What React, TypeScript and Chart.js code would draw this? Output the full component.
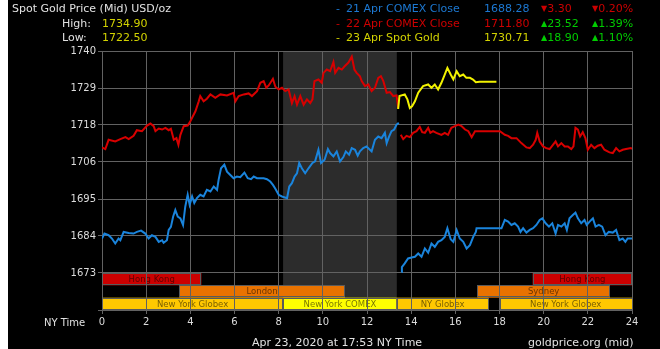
import React, { useEffect, useRef } from "react";
import { Chart, registerables } from "chart.js";

Chart.register(...registerables);

// ---------- data ----------
const xTickHours = [0, 2, 4, 6, 8, 10, 12, 14, 16, 18, 20, 22, 24];
const yTickValues = [1661.8333, 1673, 1684.1667, 1695.3333, 1706.5, 1717.6667, 1728.8333, 1740];
const yTickLabels = ["", "1673", "1684", "1695", "1706", "1718", "1729", "1740"];

// 21 Apr (blue)
const blueHours = [
  0, 0.11, 0.3, 0.45, 0.6, 0.75, 0.83, 0.98, 1.21, 1.43, 1.58, 1.77, 1.96, 2.11, 2.26, 2.42, 2.57, 2.72, 2.79, 2.94,
  3.02, 3.12, 3.22, 3.32, 3.43, 3.55, 3.67, 3.77, 3.88, 3.97, 4.08, 4.18, 4.3, 4.45, 4.6, 4.75, 4.91, 5.06, 5.21, 5.28,
  5.39, 5.54, 5.66, 5.81, 5.96, 6.11, 6.26, 6.45, 6.6, 6.75, 6.87, 7.02, 7.17, 7.32, 7.47, 7.62, 7.74, 7.85, 8.0, 8.15,
  8.38, 8.48, 8.6, 8.72, 8.83, 8.93, 9.05, 9.2, 9.35, 9.53, 9.65, 9.8, 9.92, 10.08, 10.23, 10.33, 10.48, 10.63, 10.78,
  10.93, 11.04, 11.19, 11.31, 11.46, 11.58, 11.68, 11.83, 11.98, 12.21, 12.36, 12.51, 12.66, 12.81, 12.89, 12.99, 13.11,
  13.23, 13.34, 13.44,
  13.5,
  13.56, 13.58, 13.71, 13.86, 14.02, 14.17, 14.32, 14.47, 14.62, 14.77, 14.92, 15.07, 15.22, 15.37, 15.52, 15.64, 15.79,
  15.91, 16.06, 16.2, 16.36, 16.51, 16.66, 16.81, 16.93, 16.96, 18.09, 18.24, 18.39, 18.54, 18.69, 18.84, 18.95, 19.07,
  19.22, 19.37, 19.52, 19.67, 19.82, 19.94, 20.09, 20.24, 20.39, 20.54, 20.65, 20.8, 20.95, 21.05, 21.17, 21.32, 21.44,
  21.55, 21.7, 21.85, 21.95, 22.08, 22.23, 22.35, 22.5, 22.65, 22.8, 22.95, 23.13, 23.28, 23.43, 23.58, 23.7, 23.8, 24.0,
];
const blueValues = [
  1683.4, 1684.9, 1684.4, 1683.4, 1681.9, 1683.4, 1682.9, 1685.4, 1685.1, 1684.9, 1685.4, 1685.8, 1684.9, 1683.4, 1684.4,
  1683.9, 1682.4, 1682.9, 1682.1, 1682.9, 1686.0, 1686.9, 1690.0, 1692.0, 1690.0, 1689.5, 1687.5, 1693.0, 1696.6, 1693.6,
  1696.1, 1694.1, 1695.6, 1696.6, 1696.1, 1698.1, 1697.6, 1699.1, 1698.1, 1701.1, 1704.6, 1705.7, 1703.6, 1702.6, 1701.6,
  1702.1, 1701.9, 1703.3, 1701.6, 1701.3, 1702.1, 1701.6, 1701.6, 1701.6, 1701.3, 1700.6, 1699.6, 1698.4, 1696.6, 1696.1,
  1695.6, 1699.1, 1700.1, 1702.1, 1703.1, 1706.2, 1704.6, 1703.1, 1704.6, 1706.2, 1706.7, 1710.2, 1706.2, 1707.2, 1710.4,
  1709.2, 1708.2, 1709.7, 1706.7, 1708.0, 1709.7, 1708.7, 1710.7, 1710.2, 1708.4, 1709.7, 1710.7, 1711.2, 1709.7, 1713.2,
  1714.2, 1713.7, 1715.3, 1712.2, 1714.0, 1715.8, 1716.3, 1717.8, 1718.3,
  null,
  1673.3, 1674.8, 1675.9, 1677.4, 1677.7, 1677.9, 1678.9, 1677.9, 1680.4, 1679.1, 1681.9, 1680.9, 1682.4, 1682.9, 1683.9,
  1686.5, 1683.2, 1682.4, 1686.0, 1683.4, 1682.4, 1680.4, 1681.4, 1683.9, 1685.4, 1686.5, 1686.5, 1689.0, 1688.5, 1687.5,
  1688.0, 1687.0, 1685.4, 1686.5, 1685.2, 1686.0, 1686.5, 1687.5, 1689.0, 1689.5, 1688.0, 1687.0, 1688.0, 1684.9, 1687.5,
  1687.0, 1688.0, 1686.0, 1689.5, 1690.5, 1691.2, 1689.5, 1688.0, 1689.0, 1687.5, 1688.5, 1689.5, 1687.0, 1687.5, 1687.0,
  1684.4, 1685.4, 1685.2, 1686.0, 1682.9, 1683.4, 1682.4, 1683.4, 1683.4,
];

// 22 Apr (red)
const redHours = [
  0, 0.15, 0.3, 0.6, 0.83, 1.06, 1.21, 1.43, 1.58, 1.81, 2.04, 2.19, 2.34, 2.42, 2.57, 2.72, 2.87, 3.02, 3.12, 3.25,
  3.37, 3.46, 3.55, 3.7, 3.88, 4.0, 4.23, 4.38, 4.45, 4.6, 4.75, 4.91, 5.13, 5.36, 5.66, 5.96, 6.04, 6.19, 6.42, 6.64,
  6.79, 7.02, 7.17, 7.32, 7.44, 7.55, 7.74, 7.85, 8.0, 8.15, 8.3, 8.45, 8.6, 8.72, 8.83, 8.98, 9.13, 9.28, 9.43, 9.53,
  9.62, 9.8, 9.95, 10.03, 10.18, 10.33, 10.48, 10.56, 10.71, 10.86, 11.0, 11.16, 11.31, 11.43, 11.53, 11.68, 11.76,
  11.91, 12.06, 12.21, 12.36, 12.51, 12.63, 12.74, 12.89, 13.04, 13.19, 13.34, 13.41,
  13.47,
  13.53, 13.64, 13.79, 13.94, 14.09, 14.24, 14.39, 14.5, 14.62, 14.77, 14.87, 14.99, 15.14, 15.37, 15.52, 15.67, 15.82,
  15.98, 16.14, 16.29, 16.44, 16.59, 16.74, 16.89, 18.02, 18.24, 18.39, 18.54, 18.77, 18.99, 19.22, 19.37, 19.52, 19.64,
  19.71, 19.82, 19.97, 20.12, 20.27, 20.42, 20.54, 20.65, 20.8, 20.95, 21.1, 21.25, 21.35, 21.44, 21.55, 21.65, 21.77,
  21.89, 22.0, 22.15, 22.3, 22.45, 22.6, 22.75, 22.98, 23.13, 23.28, 23.43, 23.58, 23.73, 23.95, 24.0,
];
const redValues = [
  1710.9, 1710.4, 1713.2, 1712.7, 1713.4, 1714.0, 1713.4, 1714.4, 1716.1, 1715.8, 1717.5, 1718.1, 1717.3, 1715.8, 1716.6,
  1716.3, 1716.8, 1716.1, 1716.5, 1713.2, 1713.7, 1711.7, 1714.7, 1717.3, 1717.5, 1718.8, 1721.8, 1724.8, 1726.4, 1724.8,
  1725.6, 1726.9, 1725.9, 1726.9, 1726.6, 1727.4, 1724.8, 1726.4, 1726.9, 1727.2, 1726.4, 1727.9, 1730.4, 1730.9, 1728.9,
  1729.6, 1731.6, 1729.2, 1728.4, 1728.9, 1727.9, 1728.4, 1724.3, 1726.4, 1723.8, 1726.4, 1723.8, 1725.4, 1724.3, 1725.4,
  1730.9, 1731.4, 1730.4, 1733.4, 1734.4, 1733.9, 1736.7, 1733.4, 1734.9, 1734.4, 1735.5, 1736.5, 1738.3, 1734.4, 1733.4,
  1732.4, 1730.9, 1729.4, 1729.9, 1727.9, 1728.9, 1731.9, 1732.4, 1730.9, 1727.4, 1727.6, 1726.4, 1726.6, 1722.8,
  null,
  1714.7, 1713.4, 1714.4, 1714.0, 1715.3, 1715.8, 1717.1, 1715.5, 1715.3, 1716.8, 1715.3, 1715.8, 1715.3, 1714.7, 1715.3,
  1714.7, 1716.8, 1717.3, 1717.8, 1717.3, 1716.3, 1715.8, 1714.0, 1715.8, 1715.8, 1714.7, 1714.4, 1713.7, 1713.7, 1712.2,
  1710.9, 1710.7, 1711.7, 1713.2, 1715.3, 1712.7, 1711.2, 1710.7, 1710.4, 1711.7, 1712.7, 1711.2, 1712.2, 1711.2, 1711.2,
  1710.4, 1711.2, 1716.8, 1716.3, 1714.2, 1715.5, 1713.7, 1710.2, 1711.7, 1710.7, 1711.4, 1711.7, 1710.2, 1709.4, 1709.2,
  1710.7, 1709.7, 1710.2, 1710.4, 1710.7, 1710.4,
];

// 23 Apr spot (yellow)
const yellowHours = [
  13.41, 13.47, 13.71, 13.83, 13.94, 14.04, 14.17, 14.32, 14.54, 14.77, 14.92, 15.07, 15.22, 15.37, 15.52, 15.64, 15.79,
  15.91, 16.06, 16.2, 16.36, 16.5, 16.66, 16.8, 16.93, 17.1, 17.86,
];
const yellowValues = [
  1722.5, 1726.4, 1726.9, 1725.4, 1722.8, 1723.3, 1724.8, 1727.4, 1729.4, 1729.9, 1728.9, 1729.9, 1728.4, 1730.4, 1732.9,
  1734.9, 1732.9, 1731.4, 1733.9, 1732.4, 1732.9, 1731.9, 1731.9, 1731.4, 1730.6, 1730.71, 1730.71,
];

// trading sessions
const comexStart = 8.2;
const comexEnd = 13.35;
const sessionNames = ["Hong Kong", "Hong Kong", "London", "Sydney", "New York Globex", "New York COMEX", "NY Globex", "New York Globex"];
const sessionStarts = [0, 19.5, 3.5, 17, 0, 8.2, 13.35, 18];
const sessionEnds = [4.5, 24, 11, 23, 8.2, 13.35, 17.5, 24];
const sessionRows = [0, 0, 1, 1, 2, 2, 2, 2];
const sessionTop = 1673;

// ---------- styles ----------
const FONT = '"DejaVu Sans", sans-serif';
const GRID = "#626262";
const sessionColors: Record<string, string> = {
  "Hong Kong": "#cc0000",
  London: "#e87200",
  Sydney: "#e87200",
  "New York Globex": "#ffc800",
  "New York COMEX": "#ffff00",
  "NY Globex": "#ffc800",
};

const toPoints = (hs: number[], vs: (number | null)[]) => hs.map((h, i) => ({ x: h, y: vs[i] }));

const sessionPlugin = {
  id: "sessions",
  beforeDraw(chart: any) {
    const { ctx, chartArea, scales } = chart;
    const x = scales.x;
    const y = scales.y;
    ctx.save();
    const cx0 = x.getPixelForValue(comexStart);
    const cx1 = x.getPixelForValue(comexEnd);
    ctx.fillStyle = "#2c2c2c";
    ctx.fillRect(cx0, chartArea.top, cx1 - cx0, chartArea.bottom - chartArea.top);
    const top = y.getPixelForValue(sessionTop);
    const rowH = (chartArea.bottom - top) / 3;
    for (let i = 0; i < sessionNames.length; i++) {
      const x0 = x.getPixelForValue(sessionStarts[i]);
      const x1 = x.getPixelForValue(sessionEnds[i]);
      const y0 = top + sessionRows[i] * rowH;
      ctx.fillStyle = sessionColors[sessionNames[i]];
      ctx.fillRect(x0, y0, x1 - x0, rowH);
      ctx.strokeStyle = "#5a5a5a";
      ctx.lineWidth = 1;
      ctx.strokeRect(Math.round(x0) + 0.5, Math.round(y0) + 0.5, Math.round(x1 - x0) - 1, Math.round(rowH) - 1);
      ctx.fillStyle = "rgba(0,0,0,0.55)";
      ctx.font = `8.5px ${FONT}`;
      ctx.textAlign = "center";
      ctx.textBaseline = "middle";
      ctx.fillText(sessionNames[i], (x0 + x1) / 2, y0 + rowH / 2 + 0.5);
    }
    ctx.restore();
  },
};

function T(props: { x: number; y: number; color: string; size?: number; children: React.ReactNode }) {
  const size = props.size ?? 11;
  return (
    <span
      style={{
        position: "absolute",
        left: props.x - 8,
        top: props.y - 6.5,
        color: props.color,
        fontSize: size,
        lineHeight: "13px",
        fontFamily: FONT,
        whiteSpace: "nowrap",
      }}
    >
      {props.children}
    </span>
  );
}

const Tri = (p: { up: boolean }) => <span style={{ fontSize: 8, verticalAlign: "1px" }}>{p.up ? "▲" : "▼"}</span>;

export default function App() {
  const ref = useRef<HTMLCanvasElement | null>(null);
  useEffect(() => {
    if (!ref.current) return;
    const chart = new Chart(ref.current, {
      type: "line",
      data: {
        datasets: [
          { data: toPoints(yellowHours, yellowValues), borderColor: "#f2f200", borderWidth: 2, pointRadius: 0, spanGaps: false },
          { data: toPoints(redHours, redValues), borderColor: "#d80000", borderWidth: 2, pointRadius: 0, spanGaps: false },
          { data: toPoints(blueHours, blueValues), borderColor: "#1a84dc", borderWidth: 2, pointRadius: 0, spanGaps: false },
        ] as any,
      },
      options: {
        animation: false,
        responsive: false,
        maintainAspectRatio: false,
        layout: { padding: { top: 51, right: 28, left: 0, bottom: 0 } },
        plugins: { legend: { display: false }, tooltip: { enabled: false } },
        elements: { line: { tension: 0 } },
        scales: {
          x: {
            type: "linear",
            min: 0,
            max: 24,
            afterBuildTicks: (s: any) => {
              s.ticks = xTickHours.map((v) => ({ value: v }));
            },
            afterFit: (s: any) => {
              s.height = 39;
            },
            ticks: {
              color: "#dcdcdc",
              font: { family: FONT, size: 10 },
              padding: 2,
              maxRotation: 0,
              autoSkip: false,
              callback: (v: any) => String(v),
            },
            grid: { color: GRID, lineWidth: 1, tickLength: 4 },
            border: { display: true, color: GRID },
          },
          y: {
            type: "linear",
            min: yTickValues[0],
            max: yTickValues[yTickValues.length - 1],
            afterBuildTicks: (s: any) => {
              s.ticks = yTickValues.map((v) => ({ value: v }));
            },
            afterFit: (s: any) => {
              s.width = 94;
            },
            ticks: {
              color: "#dcdcdc",
              font: { family: FONT, size: 10 },
              padding: 2,
              autoSkip: false,
              callback: (_v: any, i: number) => yTickLabels[i],
            },
            grid: { color: GRID, lineWidth: 1, tickLength: 4 },
            border: { display: true, color: GRID },
          },
        },
      } as any,
      plugins: [sessionPlugin],
    });
    return () => chart.destroy();
  }, []);

  const blue = "#1c78d2";
  const red = "#cc0000";
  const yel = "#d2d200";
  const green = "#00cc00";
  const light = "#e2e2e2";

  return (
    <div style={{ position: "absolute", left: 8, top: 0, width: 652, height: 349, background: "#000", overflow: "hidden" }}>
      <canvas ref={ref} width={652} height={349} style={{ position: "absolute", left: 0, top: 0 }} />
      <T x={12} y={8} color={light}>Spot Gold Price (Mid) USD/oz</T>
      <T x={62} y={23} color={light}>High:</T>
      <T x={102} y={23} color={yel}>1734.90</T>
      <T x={62} y={37} color={light}>Low:</T>
      <T x={102} y={37} color={yel}>1722.50</T>

      <T x={336} y={8} color={blue}>-</T>
      <T x={346} y={8} color={blue}>21 Apr COMEX Close</T>
      <T x={484} y={8} color={blue}>1688.28</T>
      <T x={541} y={8} color={red}><Tri up={false} />3.30</T>
      <T x={592} y={8} color={red}><Tri up={false} />0.20%</T>

      <T x={336} y={23} color={red}>-</T>
      <T x={346} y={23} color={red}>22 Apr COMEX Close</T>
      <T x={484} y={23} color={red}>1711.80</T>
      <T x={541} y={23} color={green}><Tri up={true} />23.52</T>
      <T x={592} y={23} color={green}><Tri up={true} />1.39%</T>

      <T x={336} y={37} color={yel}>-</T>
      <T x={346} y={37} color={yel}>23 Apr Spot Gold</T>
      <T x={484} y={37} color={yel}>1730.71</T>
      <T x={541} y={37} color={green}><Tri up={true} />18.90</T>
      <T x={592} y={37} color={green}><Tri up={true} />1.10%</T>

      <T x={44} y={322} color={light} size={10}>NY Time</T>
      <T x={252} y={342} color={light}>Apr 23, 2020 at 17:53 NY Time</T>
      <T x={528} y={342} color={light}>goldprice.org (mid)</T>
    </div>
  );
}
